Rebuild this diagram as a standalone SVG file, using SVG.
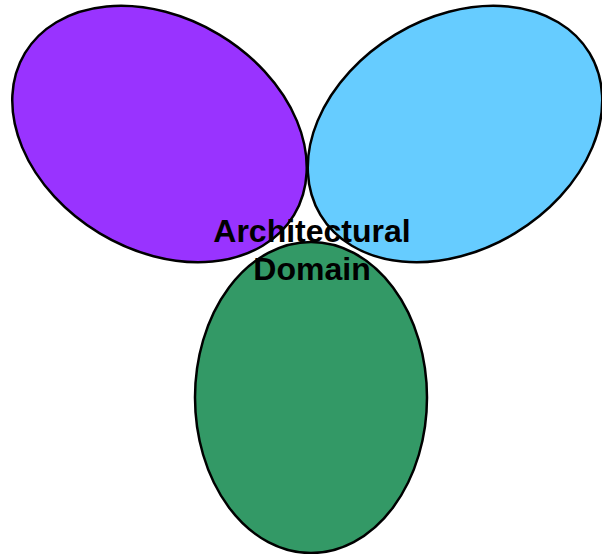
<svg xmlns="http://www.w3.org/2000/svg" width="602" height="554" viewBox="0 0 602 554">
<style>
.e{stroke:#000;stroke-width:2.5}
.t{font-family:"Liberation Sans",Arial,sans-serif;font-weight:bold;font-size:32px;fill:#000;text-anchor:middle}
</style>
<rect width="602" height="554" fill="#fff"/>
<g id="purple"><ellipse class="e" cx="159.5" cy="134" rx="157" ry="116" transform="rotate(31 159.5 134)" fill="#9933FF"/></g>
<g id="blue"><ellipse class="e" cx="455" cy="134" rx="157" ry="116" transform="rotate(-31 455 134)" fill="#66CCFF"/></g>
<g id="green"><ellipse class="e" cx="311" cy="397.5" rx="116" ry="155.5" fill="#339966"/></g>
<g id="label"><text class="t" x="312" y="242">Architectural</text><text class="t" x="312" y="280">Domain</text></g>
<g id="connectors"/>
</svg>
